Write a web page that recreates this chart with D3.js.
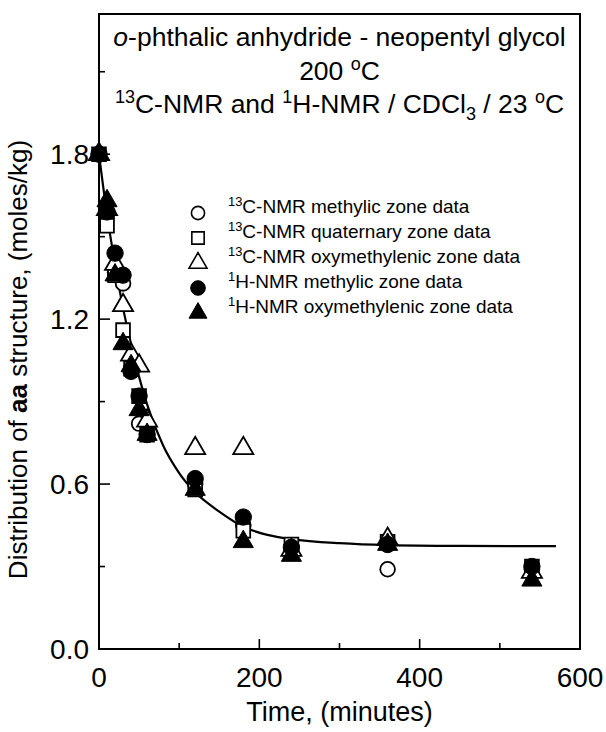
<!DOCTYPE html>
<html>
<head>
<meta charset="utf-8">
<script src="https://cdn.jsdelivr.net/npm/d3@7"></script>
<style>
  body { margin: 0; background: #fff; }
  text { font-family: "Liberation Sans", Arial, Helvetica, sans-serif; fill: #000; }
</style>
</head>
<body>
<div id="chart"></div>
<script>
// sampling times (minutes)
const times = [0, 10, 20, 30, 40, 50, 60, 120, 180, 240, 360, 540];

// series values (moles/kg)
const c13Methylic      = [1.80, 1.58, 1.37, 1.33, 1.02, 0.82, 0.78, 0.60, 0.45, 0.37, 0.29, 0.29];
const c13Quaternary    = [1.80, 1.54, 1.36, 1.16, 1.02, 0.92, 0.78, 0.58, 0.43, 0.38, 0.39, 0.30];
const c13Oxymethylenic = [1.80, 1.60, 1.40, 1.25, 1.07, 1.03, 0.83, 0.73, 0.73, 0.36, 0.40, 0.28];
const h1Methylic       = [1.80, 1.59, 1.44, 1.36, 1.01, 0.92, 0.78, 0.62, 0.48, 0.37, 0.38, 0.30];
const h1Oxymethylenic  = [1.80, 1.63, 1.36, 1.11, 1.03, 0.87, 0.78, 0.58, 0.39, 0.34, 0.38, 0.25];

// fitted curve, points
const fitTime  = [0, 10, 20, 30, 40, 50, 60, 80, 100, 120, 150, 180, 210, 240, 300, 360, 450, 570];
const fitValue = [1.80, 1.58, 1.40, 1.24, 1.11, 0.99, 0.89, 0.74, 0.64, 0.57, 0.50, 0.445, 0.415, 0.400, 0.385, 0.378, 0.375, 0.374];

// tick labels
const xTicks = [0, 200, 400, 600];
const xMinor = [100, 300, 500];
const yTicks = [0.0, 0.6, 1.2, 1.8];
const yMinor = [0.3, 0.9, 1.5, 2.1];

const legendNames = [
  [{t: "13", sup: true}, {t: "C-NMR methylic zone data"}],
  [{t: "13", sup: true}, {t: "C-NMR quaternary zone data"}],
  [{t: "13", sup: true}, {t: "C-NMR oxymethylenic zone data"}],
  [{t: "1", sup: true}, {t: "H-NMR methylic zone data"}],
  [{t: "1", sup: true}, {t: "H-NMR oxymethylenic zone data"}]
];

const series = [
  {values: c13Methylic, symbol: d3.symbolCircle, size: 170, filled: false},
  {values: c13Quaternary, symbol: d3.symbolSquare, size: 190, filled: false},
  {values: c13Oxymethylenic, symbol: d3.symbolTriangle, size: 175, filled: false},
  {values: h1Methylic, symbol: d3.symbolCircle, size: 210, filled: true},
  {values: h1Oxymethylenic, symbol: d3.symbolTriangle, size: 175, filled: true}
];

const W = 606, H = 732;
const margin = {top: 14, right: 26, bottom: 83, left: 99};
const width = W - margin.left - margin.right,
  height = H - margin.top - margin.bottom;

const svg = d3.select("#chart").append("svg")
  .attr("width", W)
  .attr("height", H)
  .append("g")
  .attr("transform", "translate(" + margin.left + "," + margin.top + ")");

const x = d3.scaleLinear().domain([0, 600]).range([0, width]);
const y = d3.scaleLinear().domain([0, 2.31]).range([height, 0]);

// write text made of pieces (superscript, subscript, italic, bold)
function richText(sel, parts) {
  let shift = 0;
  parts.forEach(p => {
    const ts = sel.append("tspan").text(p.t);
    let target = 0;
    if (p.sup) target = -0.38;
    if (p.sub) target = 0.25;
    if (p.sup || p.sub) ts.style("font-size", "0.68em");
    const fs = (p.sup || p.sub) ? 0.68 : 1;
    const dy = (target - shift);
    if (dy !== 0) ts.attr("dy", (dy / fs) + "em");
    shift = target;
    if (p.italic) ts.style("font-style", "italic");
    if (p.bold) ts.style("font-weight", "bold");
  });
}

// ticks, pointing inward
const tickG = svg.append("g").attr("stroke", "#000").attr("stroke-width", 1.6);
tickG.selectAll(".xt").data(xTicks).enter().append("line")
  .attr("x1", d => x(d)).attr("x2", d => x(d))
  .attr("y1", height).attr("y2", height - 10);
tickG.selectAll(".xm").data(xMinor).enter().append("line")
  .attr("x1", d => x(d)).attr("x2", d => x(d))
  .attr("y1", height).attr("y2", height - 6);
tickG.selectAll(".yt").data(yTicks).enter().append("line")
  .attr("x1", 0).attr("x2", 11)
  .attr("y1", d => y(d)).attr("y2", d => y(d));
tickG.selectAll(".ym").data(yMinor).enter().append("line")
  .attr("x1", 0).attr("x2", 6)
  .attr("y1", d => y(d)).attr("y2", d => y(d));

// tick labels
svg.selectAll(".xl").data(xTicks).enter().append("text")
  .attr("x", d => x(d))
  .attr("y", height + 38)
  .attr("text-anchor", "middle")
  .style("font-size", "28px")
  .text(d => d);
svg.selectAll(".yl").data(yTicks).enter().append("text")
  .attr("x", -10)
  .attr("y", d => y(d))
  .attr("dy", "0.36em")
  .attr("text-anchor", "end")
  .style("font-size", "28px")
  .text(d => d3.format(".1f")(d));

// frame
svg.append("rect")
  .attr("x", 0).attr("y", 0)
  .attr("width", width).attr("height", height)
  .attr("fill", "none")
  .attr("stroke", "#000")
  .attr("stroke-width", 2);

// axis labels
svg.append("text")
  .attr("x", width / 2)
  .attr("y", height + 72)
  .attr("text-anchor", "middle")
  .style("font-size", "27px")
  .text("Time, (minutes)");

const yLab = svg.append("text")
  .attr("transform", "translate(" + (-72) + "," + (height / 2 + 28) + ") rotate(-90)")
  .attr("text-anchor", "middle")
  .style("font-size", "26px");
richText(yLab, [{t: "Distribution of "}, {t: "aa", bold: true}, {t: " structure, (moles/kg)"}]);

// title inside the frame
const t1 = svg.append("text").attr("x", width / 2).attr("y", 32)
  .attr("text-anchor", "middle").style("font-size", "26.5px");
richText(t1, [{t: "o", italic: true}, {t: "-phthalic anhydride - neopentyl glycol"}]);
const t2 = svg.append("text").attr("x", width / 2).attr("y", 66)
  .attr("text-anchor", "middle").style("font-size", "26.5px");
richText(t2, [{t: "200 "}, {t: "o", sup: true}, {t: "C"}]);
const t3 = svg.append("text").attr("x", width / 2).attr("y", 99)
  .attr("text-anchor", "middle").style("font-size", "26.5px");
richText(t3, [{t: "13", sup: true}, {t: "C-NMR and "}, {t: "1", sup: true}, {t: "H-NMR / CDCl"},
  {t: "3", sub: true}, {t: " / 23 "}, {t: "o", sup: true}, {t: "C"}]);

// fitted curve
const line = d3.line()
  .x((d, i) => x(fitTime[i]))
  .y(d => y(d))
  .curve(d3.curveMonotoneX);
svg.append("path")
  .datum(fitValue)
  .attr("d", line)
  .attr("fill", "none")
  .attr("stroke", "#000")
  .attr("stroke-width", 2.2);

// data markers
series.forEach(s => {
  svg.append("g").selectAll("path")
    .data(s.values)
    .enter().append("path")
    .attr("transform", (d, i) => "translate(" + x(times[i]) + "," + y(d) + ")")
    .attr("d", d3.symbol().type(s.symbol).size(s.size))
    .attr("fill", s.filled ? "#000" : "#fff")
    .attr("stroke", "#000")
    .attr("stroke-width", s.filled ? 1 : 1.8);
});

// legend
const legend = svg.append("g").attr("transform", "translate(" + 99 + "," + 199 + ")");
series.forEach((s, i) => {
  const row = legend.append("g").attr("transform", "translate(0," + (i * 25) + ")");
  row.append("path")
    .attr("d", d3.symbol().type(s.symbol).size(s.size * 0.8))
    .attr("fill", s.filled ? "#000" : "#fff")
    .attr("stroke", "#000")
    .attr("stroke-width", s.filled ? 1 : 1.6);
  const lt = row.append("text")
    .attr("x", 30)
    .attr("dy", "0.36em")
    .style("font-size", "19px");
  richText(lt, legendNames[i]);
});
</script>
</body>
</html>
